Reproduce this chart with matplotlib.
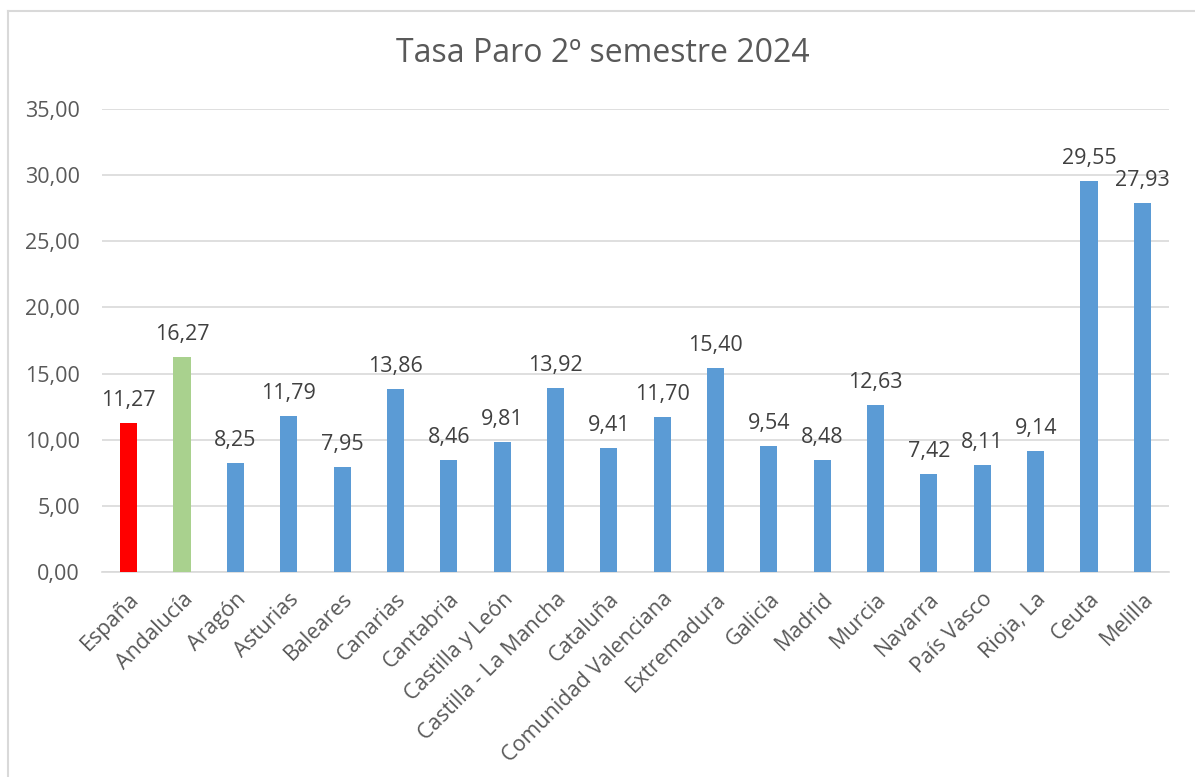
import matplotlib
matplotlib.use("Agg")
import matplotlib.pyplot as plt
from matplotlib.lines import Line2D

categories = ["España", "Andalucía", "Aragón", "Asturias", "Baleares", "Canarias",
              "Cantabria", "Castilla y León", "Castilla - La Mancha", "Cataluña",
              "Comunidad Valenciana", "Extremadura", "Galicia", "Madrid", "Murcia",
              "Navarra", "País Vasco", "Rioja, La", "Ceuta", "Melilla"]
values = [11.27, 16.27, 8.25, 11.79, 7.95, 13.86, 8.46, 9.81, 13.92, 9.41,
          11.70, 15.40, 9.54, 8.48, 12.63, 7.42, 8.11, 9.14, 29.55, 27.93]
yticks = [0, 5, 10, 15, 20, 25, 30, 35]
title = "Tasa Paro 2º semestre 2024"

colors = ["#FF0000", "#A9D18E"] + ["#5B9BD5"] * (len(categories) - 2)

plt.rcParams['font.family'] = ['Open Sans', 'DejaVu Sans']

W, H = 1195, 777
fig = plt.figure(figsize=(W / 100, H / 100), dpi=100)
ax = fig.add_axes([102 / W, 1 - 572 / H, (1169 - 102) / W, (572 - 109) / H])

x = list(range(len(categories)))
ax.bar(x, values, width=0.32, color=colors, zorder=3)
ax.set_xlim(-0.5, len(categories) - 0.5)
ax.set_ylim(0, 35)
ax.set_yticks(yticks)
ax.set_yticklabels([f"{v:.2f}".replace(".", ",") for v in yticks], fontsize=15.5, color="#595959")
ax.set_xticks(x)
ax.set_xticklabels(categories, rotation=45, ha="right", rotation_mode="anchor",
                   fontsize=15.5, color="#595959")
ax.tick_params(axis="both", length=0)
ax.tick_params(axis="y", pad=16)
ax.tick_params(axis="x", pad=12)
ax.grid(axis="y", color="#D9D9D9", linewidth=1.2, zorder=0)
for s in ["top", "right", "left"]:
    ax.spines[s].set_visible(False)
ax.spines["bottom"].set_color("#D9D9D9")
ax.spines["bottom"].set_linewidth(1.2)

for xi, v in zip(x, values):
    ax.annotate(f"{v:.2f}".replace(".", ","), (xi, v), xytext=(0, 8.5),
                textcoords="offset points", ha="center", va="bottom",
                fontsize=15.5, color="#404040")

fig.text(603 / W, 1 - 53 / H, title, ha="center", va="center", fontsize=23, color="#595959")

# figure border (top and left visible)
fig.add_artist(Line2D([7.5 / W, 1.0], [1 - 11 / H, 1 - 11 / H], color="#D9D9D9", linewidth=1.5,
                      transform=fig.transFigure))
fig.add_artist(Line2D([7.5 / W, 7.5 / W], [0, 1 - 11 / H], color="#D9D9D9", linewidth=1.5,
                      transform=fig.transFigure))

fig.savefig("out.png", dpi=100, facecolor="white")
